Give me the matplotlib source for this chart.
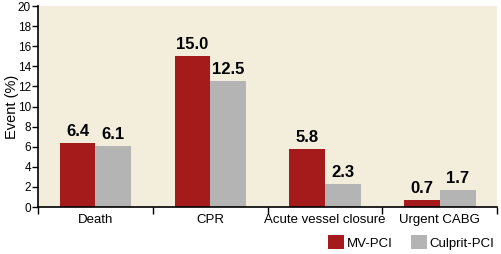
import matplotlib.pyplot as plt
from matplotlib.patches import Patch
import numpy as np

categories = ['Death', 'CPR', 'Acute vessel closure', 'Urgent CABG']
mv_pci = [6.4, 15.0, 5.8, 0.7]
culprit_pci = [6.1, 12.5, 2.3, 1.7]
series_names = ['MV-PCI', 'Culprit-PCI']

c_red = '#a51b1b'
c_gray = '#b4b4b4'
c_bg = '#f2eedb'

plt.rcParams['font.family'] = ['Liberation Sans', 'DejaVu Sans']

fig = plt.figure(figsize=(5.02, 2.54), dpi=100)
ax = fig.add_axes([0.0757, 0.185, 0.915, 0.791])
ax.set_facecolor(c_bg)

x = np.arange(len(categories))
w = 0.31
b1 = ax.bar(x - w / 2, mv_pci, w, color=c_red, edgecolor='none')
b2 = ax.bar(x + w / 2, culprit_pci, w, color=c_gray, edgecolor='none')

for bars, vals in ((b1, mv_pci), (b2, culprit_pci)):
    for r, v in zip(bars, vals):
        ax.text(r.get_x() + r.get_width() / 2, v + 0.4, f'{v:.1f}',
                ha='center', va='bottom', fontsize=12, fontweight='bold')

ax.set_xlim(-0.5, len(categories) - 0.5)
ax.set_ylim(0, 20)
ax.set_yticks(np.arange(0, 21, 2))
ax.tick_params(axis='y', labelsize=8.5, length=4, width=1, pad=1)

# category labels centred, ticks at the boundaries
ax.set_xticks(np.arange(-0.5, len(categories), 1))
ax.set_xticklabels([])
ax.tick_params(axis='x', length=5, width=1)
ax.set_xticks(x, minor=True)
ax.set_xticklabels(categories, minor=True, fontsize=9.5)
ax.tick_params(axis='x', which='minor', length=0, pad=5)

for s in ('top', 'right'):
    ax.spines[s].set_visible(False)
ax.spines['left'].set_linewidth(1.2)
ax.spines['bottom'].set_linewidth(1.2)

ax.set_ylabel('Event (%)', fontsize=10.5, va='center')
ax.yaxis.set_label_coords(-0.056, 0.5)

handles = [Patch(facecolor=c_red, edgecolor='none'),
           Patch(facecolor=c_gray, edgecolor='none')]
fig.legend(handles, series_names, loc='center right', bbox_to_anchor=(1.0, 0.045),
           ncol=2, frameon=False, fontsize=9.5, handlelength=1.2, handleheight=1.2,
           handletextpad=0.2, columnspacing=1.4, borderaxespad=0.2)

fig.savefig('out.png', dpi=100, facecolor='white')
